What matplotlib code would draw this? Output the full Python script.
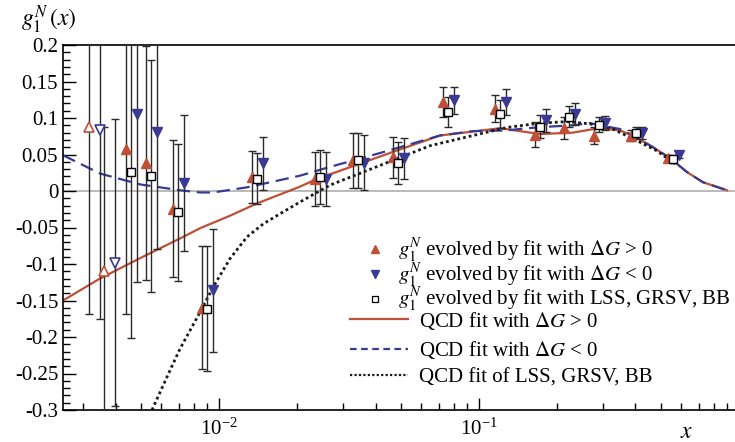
import matplotlib
matplotlib.use("Agg")
import matplotlib.pyplot as plt
import numpy as np
from matplotlib.ticker import MultipleLocator, FuncFormatter, LogLocator, LogFormatterSciNotation
from matplotlib.lines import Line2D

plt.rcParams['font.family'] = ['Liberation Serif', 'DejaVu Serif']
plt.rcParams['mathtext.fontset'] = 'stix'

# x bins of the data
x_bins = [0.00329, 0.00378, 0.00459, 0.00548, 0.00695, 0.00899, 0.0140, 0.0245,
          0.0343, 0.0488, 0.0760, 0.1205, 0.172, 0.222, 0.290, 0.402, 0.557]

# g1^N evolved with dG > 0
g1_pos = [0.088, -0.110, 0.058, 0.038, -0.024, -0.160, 0.019, 0.016, 0.042, 0.046,
          0.122, 0.113, 0.077, 0.086, 0.076, 0.076, 0.045]
err_pos = [0.256, 0.197, 0.227, 0.160, 0.094, 0.084, 0.036, 0.037, 0.038, 0.028,
           0.020, 0.019, 0.017, 0.015, 0.011, 0.008, 0.005]

# g1^N evolved with dG < 0
g1_neg = [0.083, -0.098, 0.105, 0.081, 0.011, -0.136, 0.038, 0.016, 0.039, 0.045,
          0.124, 0.122, 0.097, 0.106, 0.093, 0.079, 0.050]
err_neg = [0.259, 0.196, 0.229, 0.160, 0.093, 0.084, 0.036, 0.037, 0.038, 0.028,
           0.019, 0.018, 0.016, 0.015, 0.010, 0.008, 0.005]

# g1^N evolved with LSS, GRSV, BB
g1_lss = [np.nan, np.nan, 0.026, 0.021, -0.029, -0.161, 0.017, 0.019, 0.042, 0.038,
          0.108, 0.105, 0.088, 0.102, 0.091, 0.079, 0.044]
err_lss = [np.nan, np.nan, 0.228, 0.159, 0.094, 0.085, 0.035, 0.037, 0.038, 0.029,
           0.021, 0.019, 0.016, 0.015, 0.010, 0.008, 0.005]

n_open = 2  # first bins drawn with open symbols

# QCD fit, dG > 0
fit_pos_x = [0.00251, 0.00348, 0.00497, 0.00708, 0.00845, 0.0110, 0.0140, 0.0205,
             0.0236, 0.0327, 0.0497, 0.0708, 0.1205, 0.172, 0.230, 0.267, 0.292,
             0.348, 0.391, 0.467, 0.543, 0.631, 0.727, 0.900]
fit_pos_y = [-0.150, -0.120, -0.092, -0.065, -0.051, -0.034, -0.017, 0.006,
             0.016, 0.034, 0.057, 0.076, 0.086, 0.078, 0.080, 0.084, 0.086,
             0.083, 0.076, 0.060, 0.045, 0.026, 0.012, 0.001]

# QCD fit, dG < 0
fit_neg_x = [0.00251, 0.00348, 0.00497, 0.00708, 0.00845, 0.00948, 0.0128, 0.0172,
             0.0205, 0.0267, 0.0416, 0.0648, 0.0708, 0.0948, 0.128, 0.153, 0.183,
             0.230, 0.267, 0.292, 0.348, 0.391, 0.467, 0.543, 0.631, 0.727, 0.900]
fit_neg_y = [0.049, 0.024, 0.009, 0.001, -0.002, -0.002, 0.005, 0.015,
             0.021, 0.033, 0.052, 0.072, 0.076, 0.082, 0.083, 0.086, 0.088,
             0.090, 0.093, 0.090, 0.085, 0.076, 0.060, 0.045, 0.026, 0.012, 0.001]

# QCD fit of LSS, GRSV, BB
fit_lss_x = [0.00552, 0.0063, 0.00708, 0.00845, 0.00948, 0.0110, 0.0128, 0.0148,
             0.0172, 0.0205, 0.0267, 0.0416, 0.0648, 0.0948, 0.128, 0.172, 0.218,
             0.267, 0.327, 0.405, 0.484, 0.568]
fit_lss_y = [-0.300, -0.255, -0.216, -0.166, -0.132, -0.093, -0.063, -0.045,
             -0.031, -0.015, 0.008, 0.035, 0.062, 0.076, 0.087, 0.093, 0.095,
             0.092, 0.085, 0.069, 0.055, 0.037]

red = '#bf4f36'
blue = '#3a3a94'
ebc = '#2a2a2a'

fig = plt.figure(figsize=(7.35, 4.42), dpi=100)
ax = fig.add_axes([63 / 735, 32 / 442, 672 / 735, 365 / 442])

ax.axhline(0, color='#b4b4b4', lw=1.3, zorder=1)

ax.plot(fit_pos_x, fit_pos_y, color=red, lw=1.6, zorder=2)
ax.plot(fit_neg_x, fit_neg_y, color=blue, lw=1.6, dashes=(6, 3), zorder=2)
ax.plot(fit_lss_x, fit_lss_y, color='#1a1a1a', lw=2.0, dashes=(1, 1.1), zorder=2)

xb = np.array(x_bins)
shift_l = 10 ** (-5 / 260)
shift_r = 10 ** (6 / 260)

eb_kw = dict(fmt='none', ecolor=ebc, elinewidth=1.0, capsize=2.8, capthick=1.0, zorder=3)
ax.errorbar(xb * shift_l, g1_pos, yerr=err_pos, **eb_kw)
ax.errorbar(xb, g1_lss, yerr=err_lss, **eb_kw)
ax.errorbar(xb * shift_r, g1_neg, yerr=err_neg, **eb_kw)

ms = 7.5
ax.plot(xb[n_open:] * shift_l, g1_pos[n_open:], '^', ms=ms, color=red, mec=red, zorder=4)
ax.plot(xb[:n_open] * shift_l, g1_pos[:n_open], '^', ms=ms, mfc='white', mec=red, mew=1.2, zorder=4)
ax.plot(xb[n_open:] * shift_r, g1_neg[n_open:], 'v', ms=ms, color=blue, mec=blue, zorder=4)
ax.plot(xb[:n_open] * shift_r, g1_neg[:n_open], 'v', ms=ms, mfc='white', mec=blue, mew=1.2, zorder=4)
ax.plot(xb, g1_lss, 's', ms=5.5, mfc='white', mec='black', mew=1.0, zorder=4)

ax.set_xscale('log')
ax.set_xlim(0.00251, 0.966)
ax.set_ylim(-0.3, 0.2)

ax.xaxis.set_major_locator(LogLocator(base=10, numticks=10))
ax.xaxis.set_minor_locator(LogLocator(base=10, subs=np.arange(2, 10), numticks=20))
ax.xaxis.set_major_formatter(LogFormatterSciNotation())
ax.yaxis.set_major_locator(MultipleLocator(0.05))
ax.yaxis.set_minor_locator(MultipleLocator(0.01))
ax.yaxis.set_major_formatter(FuncFormatter(lambda v, p: '%g' % round(v, 3) if abs(v) > 1e-9 else '0'))

ax.tick_params(which='both', direction='in', top=False, right=False, labelsize=15, width=1.0)
ax.tick_params(which='major', length=9)
ax.tick_params(which='minor', length=5)
ax.tick_params(axis='x', pad=6)
for s in ['left', 'bottom', 'top']:
    ax.spines[s].set_linewidth(1.2)
ax.spines['right'].set_visible(False)

fig.text(21 / 735, 1 - 20 / 442, r'$g_1^N\,(x)$', fontsize=17, va='center', ha='left')
fig.text(687 / 735, 1 - 433 / 442, r'$x$', fontsize=17, va='center', ha='center')

# two legends: data symbols and fit curves
sym_handles = [
    Line2D([], [], ls='none', marker='^', ms=5.5, color=red),
    Line2D([], [], ls='none', marker='v', ms=5.5, color=blue),
    Line2D([], [], ls='none', marker='s', ms=5, mfc='white', mec='black', mew=0.9),
]
sym_labels = [r'$g_1^N$ evolved by fit with $\Delta G$ > 0',
              r'$g_1^N$ evolved by fit with $\Delta G$ < 0',
              r'$g_1^N$ evolved by fit with LSS, GRSV, BB']
leg1 = ax.legend(sym_handles, sym_labels, loc='upper left', bbox_to_anchor=(0.449, 0.475),
                 frameon=False, fontsize=15, handlelength=1.0, handletextpad=0.6,
                 borderpad=0, borderaxespad=0, labelspacing=-0.15)
ax.add_artist(leg1)

fit_handles = [
    Line2D([], [], color=red, lw=1.6),
    Line2D([], [], color=blue, lw=1.6, dashes=(3, 2)),
    Line2D([], [], color='#1a1a1a', lw=1.6, dashes=(1, 1)),
]
fit_labels = [r'QCD fit with $\Delta G$ > 0', r'QCD fit with $\Delta G$ < 0',
              'QCD fit of LSS, GRSV, BB']
ax.legend(fit_handles, fit_labels, loc='upper left', bbox_to_anchor=(0.427, 0.275),
          frameon=False, fontsize=15, handlelength=2.8, handletextpad=0.5,
          borderpad=0, borderaxespad=0, labelspacing=0.35)

fig.savefig('out.png', dpi=100)
